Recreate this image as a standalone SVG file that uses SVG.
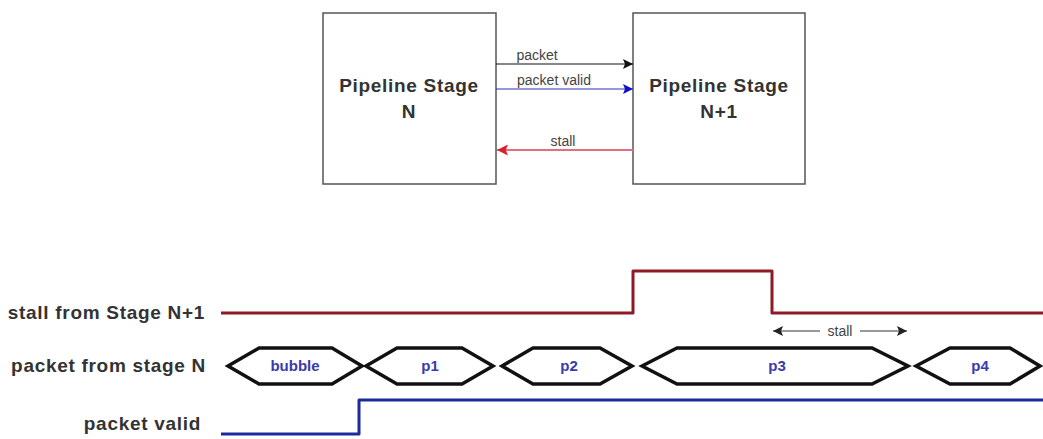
<svg xmlns="http://www.w3.org/2000/svg" width="1043" height="439" viewBox="0 0 1043 439">
<defs>
<style>
.box{fill:#fff;stroke:#555;stroke-width:1.5}
.bt{font-family:"Liberation Sans",Arial,sans-serif;font-weight:bold;font-size:19px;letter-spacing:0.7px;fill:#333;text-anchor:middle}
.al{font-family:"Liberation Sans",Arial,sans-serif;font-size:14px;fill:#444;text-anchor:middle}
.sig{font-family:"Liberation Sans",Arial,sans-serif;font-weight:bold;font-size:19px;letter-spacing:0.7px;fill:#333;text-anchor:end}
.hx{fill:#fff;stroke:#111;stroke-width:3.5;stroke-linejoin:miter}
.ht{font-family:"Liberation Sans",Arial,sans-serif;font-weight:bold;font-size:15px;fill:#3a3aaa;text-anchor:middle}
.wave{fill:none;stroke-width:3;stroke-linejoin:round}
</style>
<marker id="ab" viewBox="0 0 10 10" refX="10" refY="5" markerWidth="10" markerHeight="10" markerUnits="userSpaceOnUse" orient="auto"><path d="M0,0 L10,5 L0,10 L2,5 z" fill="#111"/></marker>
<marker id="abl" viewBox="0 0 10 10" refX="10" refY="5" markerWidth="10" markerHeight="10" markerUnits="userSpaceOnUse" orient="auto"><path d="M0,0 L10,5 L0,10 L2,5 z" fill="#1010cc"/></marker>
<marker id="ar" viewBox="0 0 10 10" refX="10" refY="5" markerWidth="11" markerHeight="11" markerUnits="userSpaceOnUse" orient="auto"><path d="M0,0 L10,5 L0,10 L2,5 z" fill="#d8202e"/></marker>
<marker id="ag" viewBox="0 0 10 10" refX="10" refY="5" markerWidth="10" markerHeight="10" markerUnits="userSpaceOnUse" orient="auto-start-reverse"><path d="M0,0 L10,5 L0,10 L2,5 z" fill="#222"/></marker>
</defs>
<rect width="1043" height="439" fill="#fff"/>
<g id="stageN">
<rect class="box" x="323" y="13" width="173" height="171"/>
<text class="bt" x="409" y="92">Pipeline Stage</text>
<text class="bt" x="409" y="118">N</text>
</g>
<g id="stageN1">
<rect class="box" x="633" y="13" width="172" height="171"/>
<text class="bt" x="719" y="92">Pipeline Stage</text>
<text class="bt" x="719" y="118">N+1</text>
</g>
<g id="connectors">
<line x1="496" y1="64" x2="633" y2="64" stroke="#111" stroke-width="1.2" marker-end="url(#ab)"/>
<text class="al" x="537" y="60">packet</text>
<line x1="496" y1="89" x2="633" y2="89" stroke="#3030b0" stroke-width="1.2" marker-end="url(#abl)"/>
<text class="al" x="554" y="85">packet valid</text>
<line x1="633" y1="150" x2="497" y2="150" stroke="#e07080" stroke-width="2" marker-end="url(#ar)"/>
<text class="al" x="563" y="146">stall</text>
</g>
<g id="timing">
<text class="sig" x="205" y="319">stall from Stage N+1</text>
<text class="sig" x="206" y="372">packet from stage N</text>
<text class="sig" x="201" y="430">packet valid</text>
<path class="wave" stroke="#8e1a28" d="M221,313 H633 V271 H772 V313 H1043"/>
<path class="wave" stroke="#1c2a9a" d="M221,434 H359 V400 H1043"/>
<g id="hexes">
<polygon class="hx" points="228,366 259,348 332,348 362,366 332,384 259,384"/>
<text class="ht" x="295" y="371">bubble</text>
<polygon class="hx" points="366,366 397,348 462,348 493,366 462,384 397,384"/>
<text class="ht" x="430" y="371">p1</text>
<polygon class="hx" points="502,366 533,348 600,348 632,366 600,384 533,384"/>
<text class="ht" x="569" y="371">p2</text>
<polygon class="hx" points="642,366 677,348 872,348 908,366 872,384 677,384"/>
<text class="ht" x="777" y="371">p3</text>
<polygon class="hx" points="916,366 950,348 1010,348 1040,366 1010,384 950,384"/>
<text class="ht" x="980" y="371">p4</text>
</g>
<line x1="820" y1="331" x2="773" y2="331" stroke="#333" stroke-width="1.2" marker-end="url(#ag)"/>
<line x1="860" y1="331" x2="907" y2="331" stroke="#333" stroke-width="1.2" marker-end="url(#ag)"/>
<text class="al" x="840" y="336" fill="#666">stall</text>
</g>
</svg>
